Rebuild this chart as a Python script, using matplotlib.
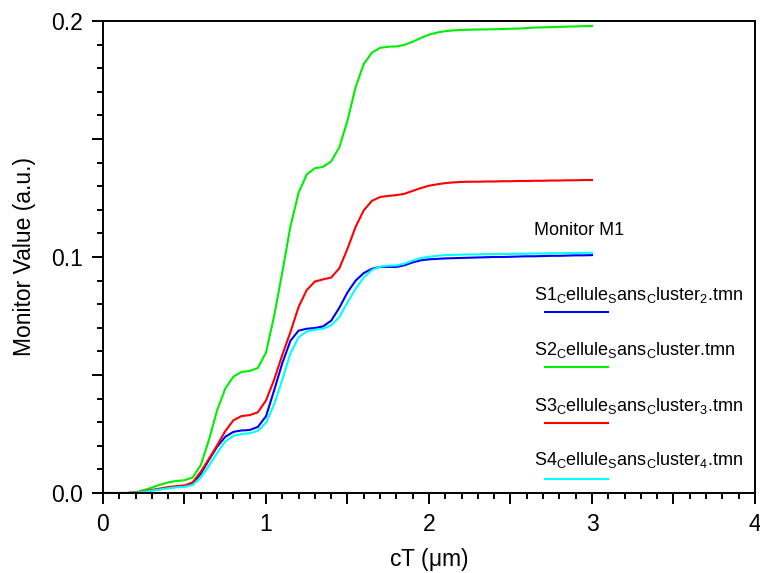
import matplotlib
matplotlib.use("Agg")
import matplotlib.pyplot as plt
from matplotlib.ticker import MultipleLocator, FuncFormatter

plt.rcParams['font.family'] = ['Liberation Sans', 'DejaVu Sans']
plt.rcParams['mathtext.default'] = 'regular'
plt.rcParams['mathtext.fontset'] = 'custom'
plt.rcParams['mathtext.rm'] = 'Liberation Sans'

x = [0.00, 0.05, 0.10, 0.15, 0.20, 0.25, 0.30, 0.35, 0.40, 0.45,
     0.50, 0.55, 0.60, 0.65, 0.70, 0.75, 0.80, 0.85, 0.90, 0.95,
     1.00, 1.05, 1.10, 1.15, 1.20, 1.25, 1.30, 1.35, 1.40, 1.45,
     1.50, 1.55, 1.60, 1.65, 1.70, 1.75, 1.80, 1.85, 1.90, 1.95,
     2.00, 2.05, 2.10, 2.15, 2.20, 2.25, 2.30, 2.35, 2.40, 2.45,
     2.50, 2.55, 2.60, 2.65, 2.70, 2.75, 2.80, 2.85, 2.90, 2.95, 3.00]

s1 = [0, 0, 0, 0, 0.0002, 0.0006, 0.0011, 0.0016, 0.0022, 0.0026,
      0.0029, 0.0040, 0.0082, 0.0140, 0.0196, 0.0238, 0.0259, 0.0265, 0.0267, 0.0280,
      0.0325, 0.0435, 0.0550, 0.0645, 0.0688, 0.0696, 0.0699, 0.0706, 0.0730, 0.0785,
      0.0850, 0.0900, 0.0932, 0.0950, 0.0958, 0.0958, 0.0958, 0.0965, 0.0977, 0.0986,
      0.0990, 0.0992, 0.0994, 0.0995, 0.0996, 0.0997, 0.0998, 0.0999, 0.1000, 0.1000,
      0.1001, 0.1002, 0.1003, 0.1003, 0.1004, 0.1005, 0.1005, 0.1006, 0.1007, 0.1007, 0.1008]

s2 = [0, 0, 0, 0, 0.0003, 0.0012, 0.0023, 0.0035, 0.0045, 0.0051,
      0.0054, 0.0066, 0.0118, 0.0225, 0.0350, 0.0442, 0.0493, 0.0513, 0.0517, 0.0530,
      0.0595, 0.0750, 0.0935, 0.1130, 0.1272, 0.1350, 0.1376, 0.1382, 0.1405, 0.1465,
      0.1578, 0.1720, 0.1818, 0.1866, 0.1886, 0.1891, 0.1892, 0.1899, 0.1912, 0.1928,
      0.1942, 0.1951, 0.1957, 0.1960, 0.1962, 0.1963, 0.1964, 0.1964, 0.1965, 0.1966,
      0.1967, 0.1968, 0.1970, 0.1972, 0.1973, 0.1974, 0.1975, 0.1976, 0.1977, 0.1978, 0.1979]

s3 = [0, 0, 0, 0, 0.0002, 0.0007, 0.0013, 0.0019, 0.0025, 0.0029,
      0.0032, 0.0045, 0.0090, 0.0145, 0.0202, 0.0262, 0.0308, 0.0326, 0.0330, 0.0342,
      0.0392, 0.0480, 0.0585, 0.0682, 0.0788, 0.0860, 0.0896, 0.0905, 0.0913, 0.0952,
      0.1035, 0.1128, 0.1198, 0.1238, 0.1254, 0.1259, 0.1262, 0.1268, 0.1280, 0.1292,
      0.1302, 0.1308, 0.1313, 0.1316, 0.1318, 0.1319, 0.1319, 0.1320, 0.1320, 0.1321,
      0.1321, 0.1322, 0.1322, 0.1323, 0.1323, 0.1324, 0.1324, 0.1325, 0.1325, 0.1326, 0.1326]

s4 = [0, 0, 0, 0, 0.0001, 0.0005, 0.0010, 0.0015, 0.0020, 0.0024,
      0.0026, 0.0034, 0.0065, 0.0115, 0.0170, 0.0218, 0.0242, 0.0250, 0.0253, 0.0263,
      0.0298, 0.0375, 0.0480, 0.0592, 0.0660, 0.0684, 0.0692, 0.0696, 0.0710, 0.0745,
      0.0808, 0.0865, 0.0913, 0.0945, 0.0959, 0.0963, 0.0964, 0.0972, 0.0985, 0.0995,
      0.1001, 0.1005, 0.1008, 0.1009, 0.1010, 0.1011, 0.1011, 0.1012, 0.1012, 0.1013,
      0.1013, 0.1014, 0.1014, 0.1015, 0.1015, 0.1016, 0.1016, 0.1017, 0.1017, 0.1018, 0.1018]

series = [s1, s2, s3, s4]
labels = [r"S1$_C$ellule$_S$ans$_C$luster$_2$.tmn",
          r"S2$_C$ellule$_S$ans$_C$luster.tmn",
          r"S3$_C$ellule$_S$ans$_C$luster$_3$.tmn",
          r"S4$_C$ellule$_S$ans$_C$luster$_4$.tmn"]
colors = ['#0000ff', '#00ee00', '#ff0000', '#00ffff']
legend_title = "Monitor M1"

fig = plt.figure(figsize=(7.6, 5.73), dpi=100)
ax = fig.add_axes([0.1355, 0.1396, 0.8579, 0.8238])

for ys, c in zip(series, colors):
    ax.plot(x, ys, color=c, lw=1.5, solid_joinstyle='round')

ax.set_xlim(0, 4)
ax.set_ylim(0, 0.2)

ax.xaxis.set_major_locator(MultipleLocator(0.5))
ax.xaxis.set_minor_locator(MultipleLocator(0.1))
ax.yaxis.set_major_locator(MultipleLocator(0.05))
ax.yaxis.set_minor_locator(MultipleLocator(0.01))

def xfmt(v, pos):
    return f"{v:.0f}" if abs(v - round(v)) < 1e-6 else ""

def yfmt(v, pos):
    return f"{v:.1f}" if abs(v * 10 - round(v * 10)) < 1e-6 else ""

ax.xaxis.set_major_formatter(FuncFormatter(xfmt))
ax.yaxis.set_major_formatter(FuncFormatter(yfmt))

ax.tick_params(which='both', direction='out', top=False, right=False, width=1.4,
               labelsize=16.5, pad=6.5)
ax.tick_params(which='major', length=8)
ax.tick_params(which='minor', length=4.5)
for sp in ax.spines.values():
    sp.set_linewidth(1.4)

ax.set_xlabel(r"cT ($\mu$m)", fontsize=16.5, labelpad=7)
ax.set_ylabel("Monitor Value (a.u.)", fontsize=16.5, labelpad=11)

# legend drawn manually (transparent, in axes coordinates)
ax.text(0.6604, 0.5456, legend_title, transform=ax.transAxes, fontsize=13, va='baseline')
text_y = [0.4089, 0.2932, 0.1744, 0.0593]
line_y = [0.3835, 0.2659, 0.1477, 0.0303]
for lab, c, ty, ly in zip(labels, colors, text_y, line_y):
    ax.text(0.6604, ty, lab, transform=ax.transAxes, fontsize=13, va='baseline')
    ax.plot([0.6787, 0.7742], [ly, ly], color=c, lw=1.5, transform=ax.transAxes, clip_on=False)

fig.savefig("out.png", dpi=100)
